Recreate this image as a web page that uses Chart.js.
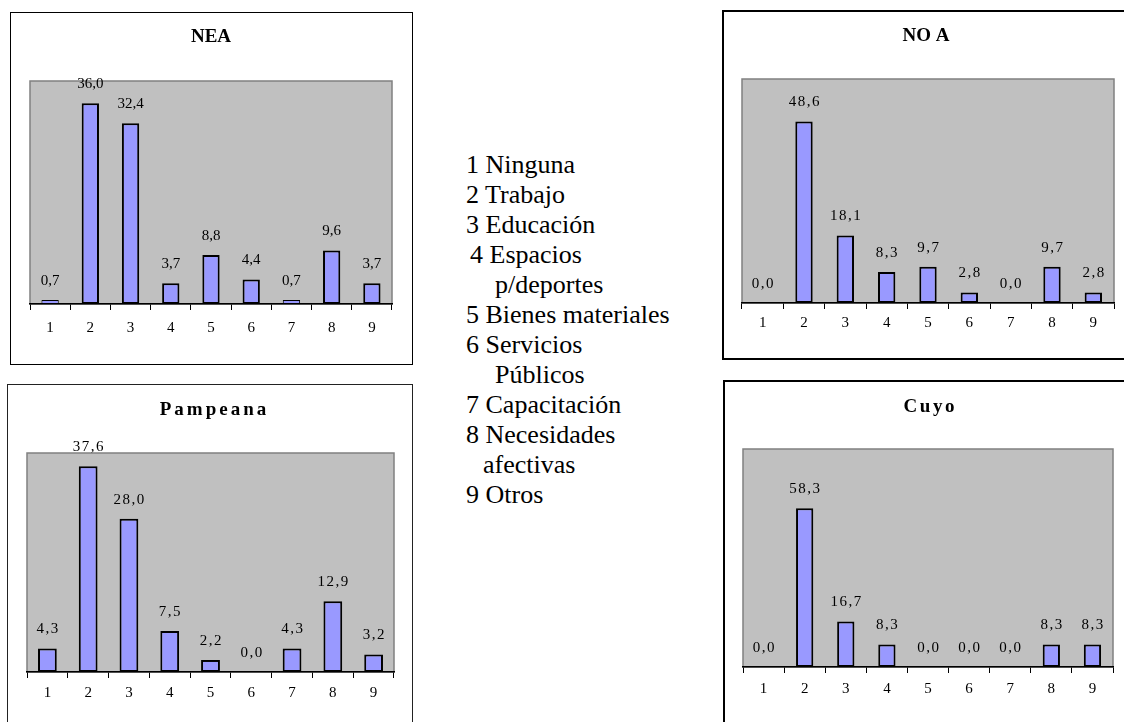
<!DOCTYPE html>
<html lang="es">
<head>
<meta charset="utf-8">
<title>Expectativas por región</title>
<script src="https://cdn.jsdelivr.net/npm/chart.js@4.4.1/dist/chart.umd.min.js"></script>
<style>
  html, body { margin: 0; padding: 0; background: #fff; }
  body { width: 1124px; height: 722px; position: relative; overflow: hidden; font-family: "Liberation Serif", "Times New Roman", serif; }
  .marco { position: absolute; box-sizing: border-box; pointer-events: none; }
  canvas { position: absolute; }
  #leyenda { position: absolute; left: 466px; top: 150px; font-size: 26px; line-height: 30px; color: #000; }
  #leyenda div { white-space: nowrap; }
</style>
</head>
<body>
<div id="leyenda">
  <div>1 Ninguna</div>
  <div>2 Trabajo</div>
  <div>3 Educación</div>
  <div style="padding-left:4px">4 Espacios</div>
  <div style="padding-left:29px">p/deportes</div>
  <div>5 Bienes materiales</div>
  <div>6 Servicios</div>
  <div style="padding-left:29px">Públicos</div>
  <div>7 Capacitación</div>
  <div>8 Necesidades</div>
  <div style="padding-left:17px">afectivas</div>
  <div>9 Otros</div>
</div>
<script>
// categorias del eje x (ver referencias del centro)
const categorias = ['1', '2', '3', '4', '5', '6', '7', '8', '9'];

// porcentajes por region
const valoresNEA = [0.7, 36.0, 32.4, 3.7, 8.8, 4.4, 0.7, 9.6, 3.7];
const valoresNOA = [0.0, 48.6, 18.1, 8.3, 9.7, 2.8, 0.0, 9.7, 2.8];
const valoresPampeana = [4.3, 37.6, 28.0, 7.5, 2.2, 0.0, 4.3, 12.9, 3.2];
const valoresCuyo = [0.0, 58.3, 16.7, 8.3, 0.0, 0.0, 0.0, 8.3, 8.3];

// maximo del eje y de cada grafico
const maximos = { NEA: 40, NOA: 60, Pampeana: 40, Cuyo: 80 };

const fuente = '"Liberation Serif", "Times New Roman", serif';

function crearGrafico(titulo, valores, maximo, caja, area, est) {
  const w = caja.r - caja.l, h = caja.b - caja.t;
  const canvas = document.createElement('canvas');
  canvas.width = w;
  canvas.height = h;
  canvas.style.left = caja.l + 'px';
  canvas.style.top = caja.t + 'px';
  canvas.style.width = w + 'px';
  canvas.style.height = h + 'px';
  document.body.appendChild(canvas);

  const marco = document.createElement('div');
  marco.className = 'marco';
  marco.style.left = caja.l + 'px';
  marco.style.top = caja.t + 'px';
  marco.style.width = w + 'px';
  marco.style.height = h + 'px';
  marco.style.border = est.borde;
  document.body.appendChild(marco);

  const altoEje = 34;

  // fondo gris del area de trazado
  const fondo = {
    id: 'fondo',
    beforeDraw(chart) {
      const a = chart.chartArea, ctx = chart.ctx;
      ctx.save();
      ctx.fillStyle = '#c0c0c0';
      ctx.fillRect(a.left, a.top, a.right - a.left, a.bottom - a.top);
      ctx.strokeStyle = '#808080';
      ctx.lineWidth = 1.5;
      ctx.strokeRect(a.left, a.top, a.right - a.left, a.bottom - a.top);
      ctx.restore();
    }
  };

  // titulo y etiquetas de valor
  const textos = {
    id: 'textos',
    afterDraw(chart) {
      const ctx = chart.ctx;
      ctx.save();
      ctx.fillStyle = '#000';
      ctx.textAlign = 'center';
      ctx.textBaseline = 'middle';
      ctx.font = 'bold 19px ' + fuente;
      if ('letterSpacing' in ctx) ctx.letterSpacing = est.espTitulo + 'px';
      ctx.fillText(titulo, est.tx - caja.l + est.espTitulo / 2, est.ty - caja.t);

      ctx.font = '15px ' + fuente;
      if ('letterSpacing' in ctx) ctx.letterSpacing = est.espEtiq + 'px';
      const meta = chart.getDatasetMeta(0);
      meta.data.forEach((bar, i) => {
        const v = valores[i];
        ctx.fillText(v.toFixed(1).replace('.', ','), bar.x + est.espEtiq / 2, bar.y - 19);
      });
      ctx.restore();
    }
  };

  new Chart(canvas, {
    type: 'bar',
    data: {
      labels: categorias,
      datasets: [{
        data: valores,
        backgroundColor: '#9999ff',
        borderColor: '#000',
        borderWidth: c => (c.raw === 0 ? 0 : (c.raw < 1 ? 1 : 2)),
        borderSkipped: false,
        barPercentage: est.barra,
        categoryPercentage: 1
      }]
    },
    options: {
      responsive: false,
      animation: false,
      devicePixelRatio: 1,
      layout: {
        padding: {
          left: area.l - caja.l,
          right: caja.r - area.r,
          top: area.t - caja.t,
          bottom: caja.b - area.b - altoEje
        }
      },
      plugins: { legend: { display: false }, tooltip: { enabled: false }, title: { display: false } },
      scales: {
        x: {
          grid: { display: true, drawOnChartArea: false, drawTicks: true, tickLength: 6, color: '#000', lineWidth: 1, offset: true },
          border: { display: true, color: '#000', width: 1.5 },
          ticks: { color: '#000', font: { family: fuente, size: 15 }, padding: est.pad, maxRotation: 0, autoSkip: false },
          afterFit: s => { s.height = altoEje; }
        },
        y: { display: false, min: 0, max: maximo }
      }
    },
    plugins: [fondo, textos]
  });
}

crearGrafico('NEA', valoresNEA, maximos.NEA,
  { l: 10, t: 12, r: 413, b: 365 }, { l: 30, t: 81, r: 392, b: 304 },
  { borde: '1px solid #000', tx: 211, ty: 37, espTitulo: 0, espEtiq: 0, barra: 0.43, pad: 9 });

crearGrafico('NO A', valoresNOA, maximos.NOA,
  { l: 722, t: 10, r: 1127, b: 360 }, { l: 742, t: 79, r: 1114, b: 303 },
  { borde: '2px solid #000', tx: 926, ty: 36, espTitulo: 0, espEtiq: 1.5, barra: 0.42, pad: 5 });

crearGrafico('Pampeana', valoresPampeana, maximos.Pampeana,
  { l: 7, t: 384, r: 413, b: 726 }, { l: 27, t: 453, r: 394, b: 672 },
  { borde: '1px solid #222', tx: 213, ty: 410, espTitulo: 3, espEtiq: 1.5, barra: 0.46, pad: 6 });

crearGrafico('Cuyo', valoresCuyo, maximos.Cuyo,
  { l: 723, t: 380, r: 1127, b: 726 }, { l: 743, t: 449, r: 1113, b: 667 },
  { borde: '2px solid #000', tx: 929, ty: 407, espTitulo: 2.5, espEtiq: 1.5, barra: 0.42, pad: 7 });
</script>
</body>
</html>
